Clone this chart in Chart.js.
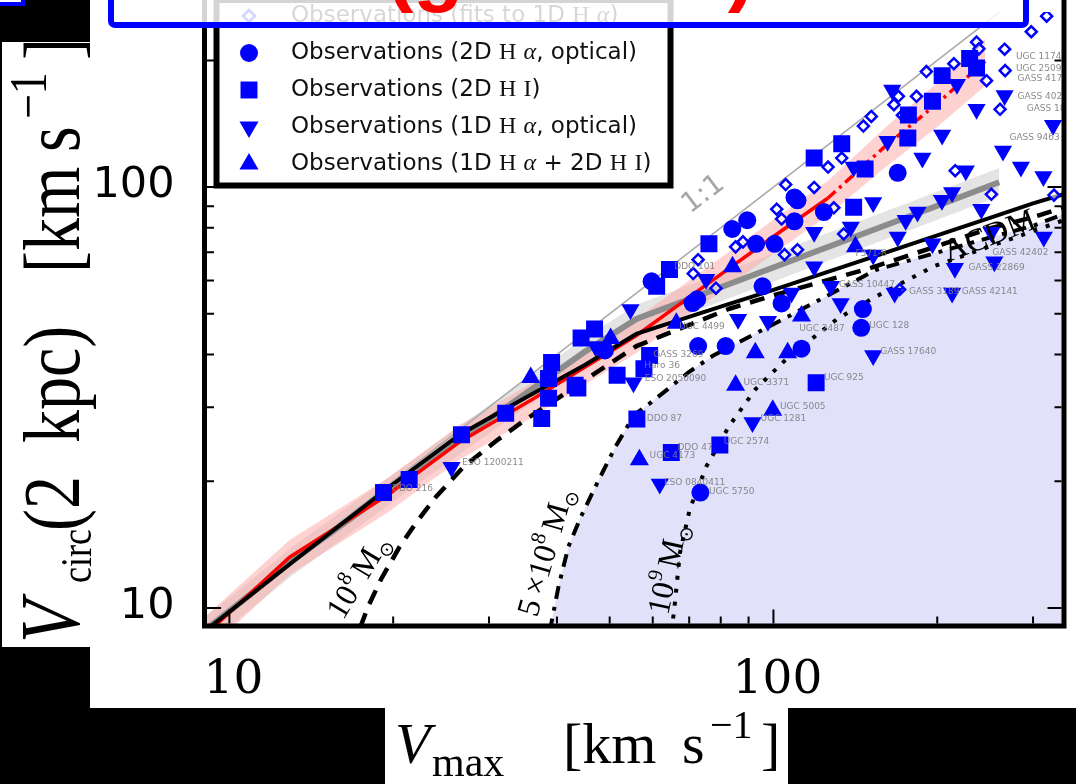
<!DOCTYPE html>
<html>
<head>
<meta charset="utf-8">
<title>Vcirc(2 kpc) vs Vmax</title>
<script src="https://cdn.jsdelivr.net/npm/chart.js@4.4.1/dist/chart.umd.min.js"></script>
<style>
  html, body { margin: 0; padding: 0; background: #000; overflow: hidden; }
  canvas { display: block; }
</style>
</head>
<body>
<canvas id="fig" width="1076" height="784"></canvas>
<script>
// ---------------- axis ticks ----------------
const xTickValues = [10, 20, 30, 40, 50, 60, 70, 80, 90, 100, 200, 300];
const yTickValues = [10, 20, 30, 40, 50, 60, 70, 80, 90, 100, 200];
const xTickText = { 10: '10', 100: '100' };
const yTickText = { 10: '10', 100: '100' };

// ---------------- reference curves (km/s) ----------------
const unityVmax  = [9, 345];
const unityVcirc = [9, 345];

const lcdmVmax  = [9.0, 13, 20, 26.5, 35, 45, 56, 80, 100, 150, 200, 250, 300, 345];
const lcdmVcirc = [8.8, 12.8, 19.7, 25.8, 31.6, 37.8, 44.8, 52.0, 57.0, 67.8, 76.8, 84.5, 91.5, 96.5];

const deficit1e8Vmax  = [17.4, 18, 19, 20.5, 22, 24, 27, 31, 35, 40, 45, 56, 83, 100, 150, 200, 250, 300, 345];
const deficit1e8Vcirc = [9.0, 10.1, 11.7, 13.9, 15.9, 18.4, 21.7, 25.0, 28.0, 31.4, 34.8, 41.9, 51.4, 55.3, 64.1, 72.4, 79.8, 84.8, 89.8];

const deficit5e8Vmax  = [38.8, 40.3, 42, 44.3, 47.6, 51.1, 55.5, 59.4, 64.3, 69.8, 77.5, 100, 154, 200, 250, 300, 345];
const deficit5e8Vcirc = [8.8, 11.3, 14.0, 16.5, 20.0, 24.0, 28.8, 30.7, 33.3, 36.3, 39.8, 47.2, 63.5, 69.9, 75.9, 80.9, 86.7];

const deficit1e9Vmax  = [64.8, 65.6, 67.3, 70.2, 75.3, 82.8, 92.7, 106.4, 131, 155, 197, 250, 305, 345];
const deficit1e9Vcirc = [8.8, 9.7, 13.5, 17.2, 21.7, 27.0, 33.1, 39.4, 48.6, 55.1, 64.8, 72.3, 79.2, 83.8];

// ---------------- simulation medians and scatter ----------------
const hydroVmax  = [9.0, 12.9, 19.6, 26.5, 36, 45, 56, 75, 100, 126, 160, 200, 245];
const hydroVcirc = [8.6, 13.2, 18.6, 24.8, 31.3, 37.3, 44.4, 58.4, 76.3, 94.2, 124.6, 158, 199];
const hydroHigh  = [9.5, 14.5, 20.4, 27.2, 34.3, 40.9, 48.7, 64, 83.6, 103.5, 138, 177, 225];
const hydroLow   = [7.8, 12.0, 16.9, 22.5, 28.4, 33.9, 40.4, 53.1, 69.4, 85.7, 111, 139, 174];

const dmoVmax  = [9.0, 13, 20, 27, 35, 45, 56, 80, 120, 180, 260];
const dmoVcirc = [8.8, 12.9, 19.3, 25.5, 32.3, 40.6, 48.6, 57.8, 70.4, 85.7, 102.7];
const dmoHigh  = [9.5, 13.9, 20.8, 27.5, 34.9, 43.8, 52.5, 62.4, 76, 92.6, 111];
const dmoLow   = [8.1, 11.9, 17.9, 23.6, 29.9, 37.6, 45, 53.5, 65.2, 79.4, 95.1];

// ---------------- observed galaxies ----------------
const ha2dVmax  = [59.7, 71, 84, 89.5, 110.7, 95.5, 103.5, 112.6, 146, 145, 72.7, 81.7, 73.4, 49, 123.8, 100.5, 169.2, 109.3, 109.3, 92.9, 72.4];
const ha2dVcirc = [59.7, 53, 79.5, 83.4, 93, 58.1, 52.9, 41.3, 51.3, 46.3, 41.9, 41.9, 18.8, 40.9, 87.2, 73.3, 108.1, 94.5, 82.9, 73.3, 54.1];

const hi2dVmax  = [19.2, 21.4, 26.7, 32.2, 37.5, 38.6, 43.7, 39.1, 44.3, 46.9, 51.6, 57.8, 59.2, 64.4, 61, 76.1, 119.8, 56.1, 64.9, 79.7, 43.2, 38.6, 229.4, 204.2, 196, 177, 133.5, 147.4, 176.6, 118.8, 140.4, 236.2];
const hi2dVcirc = [18.8, 20.2, 25.8, 29.0, 28.2, 31.5, 33.3, 38.3, 43.8, 46.0, 35.7, 37.0, 39.8, 63.7, 58.1, 73.3, 34.3, 28.1, 23.4, 24.4, 33.8, 35.1, 202, 184, 160, 148.4, 126.8, 110.4, 130.8, 117.2, 89.5, 191.9];

const ha1dVmax  = [25.6, 54.6, 55.3, 61.8, 91.5, 152.5, 213, 167, 215.5, 196, 254.7, 314, 75.2, 86.1, 107.9, 132.9, 127.5, 175, 138.7, 241, 225.7, 285, 204, 165.3, 266, 236.2, 326.5, 264.2, 313.5, 204.2, 47.1, 97.7, 118.8, 152.5, 140.4, 162.1, 187.8, 213, 152.5, 169.2, 118.8, 184, 251.5, 217.4];
const ha1dVcirc = [21.6, 51.2, 34.3, 19.7, 27.6, 39.8, 56, 56, 64.1, 73.3, 66.5, 76.1, 60.4, 48.5, 56, 52.9, 58.1, 83.4, 80.4, 88.6, 109.4, 111.6, 93, 170, 165, 153, 140.3, 121.9, 106, 133, 41.8, 48, 64.7, 69.0, 111.6, 128.5, 117.2, 97.1, 91.9, 76.1, 78.1, 87.2, 78.1, 175.6];

const hybridVmax  = [35.8, 56.7, 85.2, 99.7, 112.6, 84.1, 66.3, 92.6, 141.5, 106.2, 50.2];
const hybridVcirc = [35.3, 22.5, 33.8, 29.5, 49.4, 64.7, 47.5, 40.4, 72.1, 40.4, 43.7];

const fitVmax  = [105.3, 126, 133.5, 146.3, 151.3, 166.5, 169.7, 183.2, 191, 214.6, 236.2, 238.6, 246.4, 266, 266.6, 260.9, 297.8, 317.8, 215.8, 172.6, 101.4, 103.5, 85.2, 87.9, 78.4, 72.7, 71.2, 104.8, 110.7, 118.8, 134.6, 251.5, 170.6, 129.1, 327.8];
const fitVcirc = [101.4, 111.6, 117.2, 139.6, 147.2, 157, 164.3, 164.3, 188.1, 196.4, 221, 213, 179, 212.6, 189.1, 153, 233.9, 254.7, 109.4, 148.2, 88.6, 84, 72.1, 74.1, 57.5, 67.2, 62.3, 69.1, 71, 99.8, 77.4, 96.1, 57.1, 89.3, 95.7];

// galaxy name tags (anchor of the tag text)
const tagNames = ['DDO 87', 'DDO 47', 'UGC 4173', 'ESO 0840411', 'UGC 5750', 'UGC 2574', 'UGC 1281', 'UGC 5005', 'UGC 3371', 'UGC 925', 'GASS 17640', 'UGC 128', 'GASS 42141', 'GASS 3189', 'GASS 10447', 'GASS 22869', 'GASS 42402', 'F571-8', 'DDO 101', 'ESO 1200211', 'DDO 216', 'UGC 11748', 'UGC 2509', 'GASS 41783', 'GASS 40247', 'GASS 18900', 'GASS 9463', 'Haro 36', 'GASS 3269', 'ESO 2050090', 'UGC 4499', 'UGC 2487'];
const tagVmax  = [58.5, 66.6, 59.2, 62.9, 76.1, 81, 94.7, 102.8, 88.1, 123.8, 157.1, 150, 221.9, 177.5, 131.9, 228.4, 252.5, 141.5, 65.7, 26.8, 19.9, 279, 279, 281, 281, 292, 271.5, 57.9, 60.1, 58, 67.1, 111.5];
const tagVcirc = [28.1, 24.0, 23.0, 19.8, 18.9, 24.8, 28.2, 30.1, 34.3, 35.3, 40.6, 46.8, 56.5, 56.5, 58.7, 64.4, 69.8, 69.5, 64.7, 22.1, 19.2, 204.2, 191.3, 181, 164.3, 153.8, 130.8, 37.6, 39.9, 35.1, 46.5, 46.2];

// ---------------- drawing helpers ----------------
const BLUE = '#0000ff';
const pts = (xs, ys) => xs.map((x, i) => ({ x: x, y: ys[i] }));
const serif = '"Liberation Serif", "DejaVu Serif", serif';
const sans = '"DejaVu Sans", sans-serif';

function textRuns(ctx, list, x, y) {
  let cx = x;
  for (const r of list) {
    ctx.font = r.f;
    if (r.at !== undefined) cx = r.at;
    cx += (r.dx || 0);
    ctx.fillText(r.t, cx, y + (r.dy || 0));
    cx += ctx.measureText(r.t).width + (r.gap || 0);
  }
  return cx;
}

function rotatedRuns(ctx, x, y, deg, color, list) {
  ctx.save();
  ctx.translate(x, y);
  ctx.rotate(deg * Math.PI / 180);
  ctx.fillStyle = color;
  ctx.textBaseline = 'alphabetic';
  textRuns(ctx, list, 0, 0);
  ctx.restore();
}

function marker(ctx, style, radius, rotation, fill, stroke, lw, x, y) {
  ctx.save();
  ctx.fillStyle = fill;
  ctx.strokeStyle = stroke;
  ctx.lineWidth = lw;
  Chart.helpers.drawPoint(ctx, { pointStyle: style, radius: radius, rotation: rotation, borderWidth: lw }, x, y);
  ctx.restore();
}

const decor = {
  id: 'decor',
  beforeDraw(chart) {
    const ctx = chart.ctx;
    ctx.save();
    ctx.fillStyle = '#000';
    ctx.fillRect(0, 0, chart.width, chart.height);
    ctx.fillStyle = '#fff';
    ctx.fillRect(90, 0, 986, 708);
    ctx.fillRect(2, 42, 88, 605);
    ctx.fillRect(385, 708, 403, 76);
    ctx.restore();
  },
  afterDatasetsDraw(chart) {
    const ctx = chart.ctx, xs = chart.scales.x, ys = chart.scales.y, a = chart.chartArea;

    // galaxy name tags
    ctx.save();
    ctx.beginPath();
    ctx.rect(a.left, a.top, a.right - a.left, a.bottom - a.top);
    ctx.clip();
    ctx.font = '9px ' + sans;
    ctx.fillStyle = 'rgba(125,125,125,0.9)';
    ctx.textBaseline = 'middle';
    tagNames.forEach((name, i) => {
      ctx.fillText(name, xs.getPixelForValue(tagVmax[i]), ys.getPixelForValue(tagVcirc[i]));
    });
    ctx.restore();

    // curve annotations
    const big = '32px ' + serif, sup = '21px ' + serif, odot = '19px ' + sans;
    rotatedRuns(ctx, 343, 621, -59, '#000', [
      { t: '10', f: big }, { t: '8', f: sup, dy: -14 }, { t: 'M', f: big, dx: 5 }, { t: '\u2299', f: odot, dy: 7 }
    ]);
    rotatedRuns(ctx, 537, 618, -74, '#000', [
      { t: '5', f: big }, { t: '\u00d7', f: big, dx: 6 }, { t: '10', f: big }, { t: '8', f: sup, dy: -14 },
      { t: 'M', f: big, dx: 5 }, { t: '\u2299', f: odot, dy: 7 }
    ]);
    rotatedRuns(ctx, 668, 616, -78, '#000', [
      { t: '10', f: big }, { t: '9', f: sup, dy: -14 }, { t: 'M', f: big, dx: 5 }, { t: '\u2299', f: odot, dy: 7 }
    ]);
    rotatedRuns(ctx, 690, 214, -37, '#a6a6a6', [{ t: '1:1', f: '28px ' + sans }]);
    rotatedRuns(ctx, 948, 262, -21, '#000', [{ t: '\u039bCDM', f: '32px ' + serif }]);

    // frame
    ctx.save();
    ctx.strokeStyle = '#000';
    ctx.lineWidth = 5;
    ctx.lineJoin = 'miter';
    ctx.beginPath();
    ctx.moveTo(a.left, -10);
    ctx.lineTo(a.left, a.bottom);
    ctx.lineTo(a.right, a.bottom);
    ctx.lineTo(a.right, -10);
    ctx.stroke();

    // inward ticks on the left, right and bottom spines
    ctx.lineWidth = 2;
    ctx.beginPath();
    ys.ticks.forEach(t => {
      const p = ys.getPixelForValue(t.value);
      const len = yTickText[t.value] ? 14 : 7;
      ctx.moveTo(a.left + 2.5, p); ctx.lineTo(a.left + 2.5 + len, p);
      ctx.moveTo(a.right - 2.5, p); ctx.lineTo(a.right - 2.5 - len, p);
    });
    xs.ticks.forEach(t => {
      const p = xs.getPixelForValue(t.value);
      const len = xTickText[t.value] ? 14 : 7;
      ctx.moveTo(p, a.bottom - 2.5); ctx.lineTo(p, a.bottom - 2.5 - len);
    });
    ctx.stroke();

    // tick labels
    ctx.fillStyle = '#000';
    ctx.textBaseline = 'middle';
    ctx.textAlign = 'right';
    ctx.font = '43px "DejaVu Sans"';
    ys.ticks.forEach(t => {
      if (yTickText[t.value]) ctx.fillText(yTickText[t.value], a.left - 30, ys.getPixelForValue(t.value) - 1);
    });
    ctx.textAlign = 'center';
    ctx.font = '47px "DejaVu Serif"';
    xs.ticks.forEach(t => {
      if (xTickText[t.value]) ctx.fillText(xTickText[t.value], xs.getPixelForValue(t.value) + 4, 681);
    });
    ctx.restore();
  },
  afterDraw(chart) {
    const ctx = chart.ctx;

    // ---- legend ----
    ctx.save();
    ctx.fillStyle = '#fff';
    ctx.fillRect(216, -5, 455, 190);
    ctx.strokeStyle = '#000';
    ctx.lineWidth = 6;
    ctx.strokeRect(216.5, 0, 454, 185.5);
    const sf = '23px ' + sans, hf = '24px ' + serif, af = 'italic 24px ' + serif;
    const rows = [
      { y: 16, style: 'rectRot', r: 6, rot: 0, fill: 'rgba(255,255,255,0)', lw: 2.5,
        text: [{ t: 'Observations (fits to 1D ', f: sf }, { t: 'H', f: hf }, { t: ' ', f: sf }, { t: '\u03b1', f: af }, { t: ')', f: sf }] },
      { y: 53, style: 'circle', r: 9, rot: 0, fill: BLUE, lw: 0,
        text: [{ t: 'Observations (2D ', f: sf }, { t: 'H', f: hf }, { t: ' ', f: sf }, { t: '\u03b1', f: af }, { t: ', optical)', f: sf }] },
      { y: 90, style: 'rect', r: 12, rot: 0, fill: BLUE, lw: 0,
        text: [{ t: 'Observations (2D ', f: sf }, { t: 'H', f: hf }, { t: ' ', f: sf }, { t: 'I', f: hf }, { t: ')', f: sf }] },
      { y: 127, style: 'triangle', r: 11, rot: 180, fill: BLUE, lw: 0,
        text: [{ t: 'Observations (1D ', f: sf }, { t: 'H', f: hf }, { t: ' ', f: sf }, { t: '\u03b1', f: af }, { t: ', optical)', f: sf }] },
      { y: 164, style: 'triangle', r: 11, rot: 0, fill: BLUE, lw: 0,
        text: [{ t: 'Observations (1D ', f: sf }, { t: 'H', f: hf }, { t: ' ', f: sf }, { t: '\u03b1', f: af }, { t: ' + 2D ', f: sf },
               { t: 'H', f: hf }, { t: ' ', f: sf }, { t: 'I', f: hf }, { t: ')', f: sf }] }
    ];
    rows.forEach(row => {
      marker(ctx, row.style, row.r, row.rot, row.fill, BLUE, row.lw, 249, row.y);
      ctx.fillStyle = '#111';
      ctx.textBaseline = 'middle';
      textRuns(ctx, row.text, 291, row.y);
    });
    ctx.restore();

    // ---- caption box across the top ----
    ctx.save();
    ctx.fillStyle = 'rgba(255,255,255,0.83)';
    ctx.beginPath();
    ctx.roundRect(111, -30, 915, 55, 4);
    ctx.fill();
    ctx.strokeStyle = BLUE;
    ctx.lineWidth = 6;
    ctx.stroke();
    // caption text: only its lowest part shows inside the box
    ctx.beginPath();
    ctx.rect(114, -40, 909, 62);
    ctx.clip();
    ctx.fillStyle = '#ff0000';
    ctx.font = 'bold 82px "Liberation Sans", sans-serif';
    ctx.textBaseline = 'alphabetic';
    ctx.textAlign = 'left';
    const caption = '(gr\u00e1ficas)';
    const m = ctx.measureText(caption);
    ctx.fillText(caption, 386, 13 - m.actualBoundingBoxDescent);
    ctx.restore();

    // small box corner at the upper left
    ctx.save();
    ctx.fillStyle = '#fff';
    ctx.fillRect(-40, -40, 63, 44);
    ctx.strokeStyle = BLUE;
    ctx.lineWidth = 4;
    ctx.strokeRect(-40, -40, 63, 44);
    ctx.restore();

    // ---- axis titles ----
    ctx.save();
    ctx.fillStyle = '#000';
    ctx.textBaseline = 'alphabetic';
    ctx.textAlign = 'left';
    ctx.font = 'italic 58px ' + serif; ctx.fillText('V', 395, 763);
    ctx.font = '42px ' + serif;        ctx.fillText('max', 432, 776);
    ctx.font = '58px ' + serif;        ctx.fillText('[km', 563, 763);
    ctx.font = '58px ' + serif;        ctx.fillText('s', 682, 763);
    ctx.font = '40px ' + serif;        ctx.fillText('\u22121', 710, 738);
    ctx.font = '58px ' + serif;        ctx.fillText(']', 761, 763);
    ctx.restore();

    ctx.save();
    ctx.translate(79, 645);
    ctx.rotate(-Math.PI / 2);
    ctx.scale(1, 1.22);
    ctx.fillStyle = '#000';
    ctx.textBaseline = 'alphabetic';
    ctx.textAlign = 'left';
    const f66 = '66px ' + serif;
    textRuns(ctx, [
      { t: 'V', f: 'italic 70px ' + serif, at: 2 },
      { t: 'circ', f: '36px ' + serif, at: 62, dy: 10 },
      { t: '(2', f: f66, at: 114 },
      { t: 'kpc)', f: f66, at: 202 },
      { t: '[km', f: f66, at: 372 },
      { t: 's', f: f66, at: 493 },
      { t: '\u22121', f: '44px ' + serif, at: 526, dy: -27 },
      { t: ']', f: f66, at: 585 }
    ], 0, 0);
    ctx.restore();
  }
};

// ---------------- chart ----------------
const scatterStyle = (style, radius, rotation) => ({
  showLine: false, pointStyle: style, pointRadius: radius, pointRotation: rotation,
  pointBackgroundColor: BLUE, pointBorderColor: BLUE, pointBorderWidth: 0, borderColor: BLUE, backgroundColor: BLUE
});
const lineStyle = (color, width, dash) => ({
  showLine: true, borderColor: color, borderWidth: width, borderDash: dash || [], pointRadius: 0, fill: false, tension: 0
});

new Chart(document.getElementById('fig'), {
  type: 'line',
  data: {
    datasets: [
      Object.assign({ label: 'Observations (1D H\u03b1 + 2D HI)', data: pts(hybridVmax, hybridVcirc), order: 1 }, scatterStyle('triangle', 11, 0)),
      Object.assign({ label: 'Observations (1D H\u03b1, optical)', data: pts(ha1dVmax, ha1dVcirc), order: 2 }, scatterStyle('triangle', 10.5, 180)),
      Object.assign({ label: 'Observations (2D HI)', data: pts(hi2dVmax, hi2dVcirc), order: 3 }, scatterStyle('rect', 12, 0)),
      Object.assign({ label: 'Observations (2D H\u03b1, optical)', data: pts(ha2dVmax, ha2dVcirc), order: 4 }, scatterStyle('circle', 9, 0)),
      { label: 'Observations (fits to 1D H\u03b1)', data: pts(fitVmax, fitVcirc), order: 5, showLine: false,
        pointStyle: 'rectRot', pointRadius: 5.5, pointBackgroundColor: 'rgba(255,255,255,0.6)', pointBorderColor: BLUE, pointBorderWidth: 2.5 },
      Object.assign({ label: '1e9', data: pts(deficit1e9Vmax, deficit1e9Vcirc), order: 6, borderCapStyle: 'butt' }, lineStyle('#000', 4, [4, 9])),
      Object.assign({ label: '5e8', data: pts(deficit5e8Vmax, deficit5e8Vcirc), order: 7 }, lineStyle('#000', 4, [13, 8, 4, 8])),
      Object.assign({ label: '1e8', data: pts(deficit1e8Vmax, deficit1e8Vcirc), order: 8 }, lineStyle('#000', 4.5, [15, 10])),
      Object.assign({ label: 'LCDM', data: pts(lcdmVmax, lcdmVcirc), order: 9 }, lineStyle('#000', 4)),
      Object.assign({ label: 'hydro', data: pts(hydroVmax, hydroVcirc), order: 10,
        segment: { borderDash: c => (c.p0.parsed.x >= 125 ? [10, 5, 3, 5] : undefined) } }, lineStyle('#ff0000', 3.5)),
      Object.assign({ label: 'dmo', data: pts(dmoVmax, dmoVcirc), order: 11 }, lineStyle('#8c8c8c', 6)),
      Object.assign({ label: '1:1', data: pts(unityVmax, unityVcirc), order: 12 }, lineStyle('#aaaaaa', 1.6)),
      Object.assign({ label: 'hydroLow', data: pts(hydroVmax, hydroLow), order: 13 }, lineStyle('rgba(0,0,0,0)', 0)),
      Object.assign({ label: 'hydroHigh', data: pts(hydroVmax, hydroHigh), order: 13 }, lineStyle('rgba(0,0,0,0)', 0), { fill: '-1', backgroundColor: 'rgba(255,165,165,0.5)' }),
      Object.assign({ label: 'dmoLow', data: pts(dmoVmax, dmoLow), order: 14 }, lineStyle('rgba(0,0,0,0)', 0)),
      Object.assign({ label: 'dmoHigh', data: pts(dmoVmax, dmoHigh), order: 14 }, lineStyle('rgba(0,0,0,0)', 0), { fill: '-1', backgroundColor: 'rgba(205,205,205,0.55)' }),
      Object.assign({ label: 'deficit region', data: pts(deficit5e8Vmax, deficit5e8Vcirc), order: 20 }, lineStyle('rgba(0,0,0,0)', 0), { fill: 'start', backgroundColor: '#e1e1fa' })
    ]
  },
  options: {
    responsive: false,
    animation: false,
    events: [],
    layout: { padding: { left: 0, right: 6.5, top: 0, bottom: 0 } },
    plugins: { legend: { display: false }, tooltip: { enabled: false } },
    scales: {
      x: {
        type: 'logarithmic', min: 9.0, max: 342,
        afterBuildTicks: s => { s.ticks = xTickValues.map(v => ({ value: v })); },
        afterFit: s => { s.height = 158; },
        grid: { display: false, drawTicks: false },
        border: { display: false },
        ticks: { display: false }
      },
      y: {
        type: 'logarithmic', min: 9.06, max: 260.6,
        afterBuildTicks: s => { s.ticks = yTickValues.map(v => ({ value: v })); },
        afterFit: s => { s.width = 204.5; },
        grid: { display: false, drawTicks: false },
        border: { display: false },
        ticks: { display: false }
      }
    }
  },
  plugins: [decor]
});
</script>
</body>
</html>
